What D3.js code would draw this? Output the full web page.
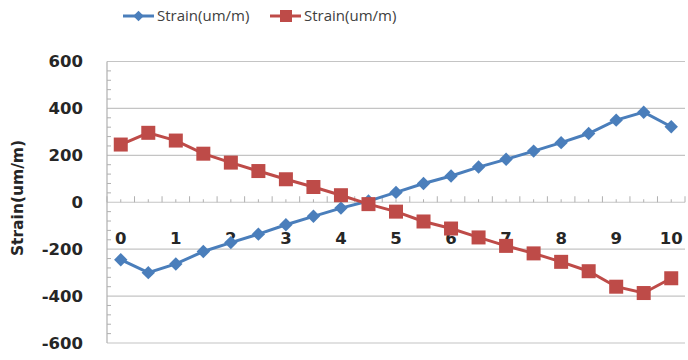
<!DOCTYPE html>
<html><head><meta charset="utf-8">
<script src="https://cdn.jsdelivr.net/npm/d3@7"></script>
<style>body{margin:0;background:#fff;}svg{display:block;}</style>
</head><body>
<svg id="c" width="688" height="360"></svg>
<script>
const positions = [0,0.5,1,1.5,2,2.5,3,3.5,4,4.5,5,5.5,6,6.5,7,7.5,8,8.5,9,9.5,10];
const seriesNames = ["Strain(um/m)", "Strain(um/m)"];
const blueValues = [-245,-300,-263,-210,-172,-136,-96,-60,-25,5,42,80,112,150,183,218,254,293,350,384,322];
const redValues = [246,296,263,207,169,133,98,65,30,-8,-40,-82,-112,-150,-186,-218,-254,-294,-360,-387,-324];
const yTicks = [600,400,200,0,-200,-400,-600];
const xTickLabels = [0,1,2,3,4,5,6,7,8,9,10];
const xTitle = "Length of beam(m)";
const yTitle = "Strain(um/m)";

const svg = d3.select("#c");
const pLeft = 107, pRight = 685, pTop = 61.5, pBottom = 343;
const x = d3.scaleLinear().domain([-0.25, 10.25]).range([pLeft, pRight]);
const y = d3.scaleLinear().domain([-600, 600]).range([pBottom, pTop]);
const blue = "#4a7ebb", red = "#be4b48";
const labelFont = "DejaVu Sans, sans-serif";

// gridlines
svg.append("g").selectAll("line").data(yTicks).join("line")
  .attr("x1", pLeft).attr("x2", pRight)
  .attr("y1", d => y(d)).attr("y2", d => y(d))
  .attr("stroke", "#c4c4c4").attr("stroke-width", 1.2);

// y axis line
svg.append("line").attr("x1", pLeft).attr("x2", pLeft).attr("y1", pTop).attr("y2", pBottom)
  .attr("stroke", "#b0b0b0").attr("stroke-width", 1.2);

// y minor ticks (inside)
const yMinor = d3.range(-600, 601, 40).filter(v => v % 200 !== 0);
svg.append("g").selectAll("line").data(yMinor).join("line")
  .attr("x1", pLeft).attr("x2", pLeft + 4)
  .attr("y1", d => y(d)).attr("y2", d => y(d))
  .attr("stroke", "#b0b0b0").attr("stroke-width", 1);

// y labels
svg.append("g").selectAll("text").data(yTicks).join("text")
  .attr("x", 83).attr("y", d => y(d)).attr("dy", "0.36em")
  .attr("text-anchor", "end")
  .attr("font-family", labelFont).attr("font-weight", "bold").attr("font-size", 16.5)
  .attr("fill", "#262626").text(d => d);

// x ticks on zero line (pointing up)
const xMajorTicks = d3.range(0, 22).map(i => i * 0.5 - 0.25);
svg.append("g").selectAll("line").data(xMajorTicks).join("line")
  .attr("x1", d => x(d)).attr("x2", d => x(d))
  .attr("y1", y(0)).attr("y2", y(0) - 6)
  .attr("stroke", "#b0b0b0").attr("stroke-width", 1);
svg.append("g").selectAll("line").data(positions).join("line")
  .attr("x1", d => x(d)).attr("x2", d => x(d))
  .attr("y1", y(0)).attr("y2", y(0) - 3)
  .attr("stroke", "#b0b0b0").attr("stroke-width", 1);

// x labels
svg.append("g").selectAll("text").data(xTickLabels).join("text")
  .attr("x", d => x(d)).attr("y", 244)
  .attr("text-anchor", "middle")
  .attr("font-family", labelFont).attr("font-weight", "bold").attr("font-size", 16.5)
  .attr("fill", "#262626").text(d => d);

// titles
svg.append("text")
  .attr("transform", "translate(23,198) rotate(-90)")
  .attr("text-anchor", "middle")
  .attr("font-family", labelFont).attr("font-weight", "bold").attr("font-size", 15.5)
  .attr("fill", "#262626").text(yTitle);
svg.append("text")
  .attr("x", 372).attr("y", 372)
  .attr("text-anchor", "middle")
  .attr("font-family", labelFont).attr("font-weight", "bold").attr("font-size", 16.5)
  .attr("fill", "#262626").text(xTitle);

// series
const line = d3.line().x((d, i) => x(positions[i])).y(d => y(d));
svg.append("path").datum(blueValues).attr("d", line)
  .attr("fill", "none").attr("stroke", blue).attr("stroke-width", 3);
svg.append("path").datum(redValues).attr("d", line)
  .attr("fill", "none").attr("stroke", red).attr("stroke-width", 3);

svg.append("g").selectAll("path").data(blueValues).join("path")
  .attr("d", d3.symbol().type(d3.symbolSquare).size(90)())
  .attr("transform", (d, i) => `translate(${x(positions[i])},${y(d)}) rotate(45)`)
  .attr("fill", blue);
svg.append("g").selectAll("rect").data(redValues).join("rect")
  .attr("x", (d, i) => x(positions[i]) - 7).attr("y", d => y(d) - 7)
  .attr("width", 14).attr("height", 14)
  .attr("fill", red);

// legend
const legend = [
  {name: seriesNames[0], color: blue, shape: "diamond", x0: 123},
  {name: seriesNames[1], color: red, shape: "square", x0: 270}
];
const lg = svg.append("g").selectAll("g").data(legend).join("g")
  .attr("transform", d => `translate(${d.x0},16)`);
lg.append("line").attr("x1", 0).attr("x2", 31).attr("y1", 0).attr("y2", 0)
  .attr("stroke", d => d.color).attr("stroke-width", 3);
lg.filter(d => d.shape === "diamond").append("path")
  .attr("transform", "translate(15.5,0) rotate(45)")
  .attr("d", d3.symbol().type(d3.symbolSquare).size(55)())
  .attr("fill", d => d.color);
lg.filter(d => d.shape === "square").append("rect")
  .attr("x", 10).attr("y", -6).attr("width", 12).attr("height", 12)
  .attr("fill", d => d.color);
lg.append("text").attr("x", 34).attr("y", 0).attr("dy", "0.35em")
  .attr("font-family", "Open Sans, sans-serif").attr("font-size", 15)
  .attr("fill", "#404040").text(d => d.name);
</script>
</body></html>
